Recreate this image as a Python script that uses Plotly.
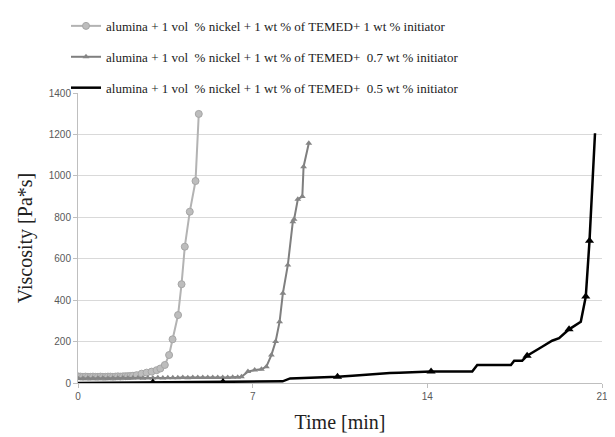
import plotly.graph_objects as go

# ---- data ----
s1_name = "alumina + 1 vol\u00a0 % nickel + 1 wt % of TEMED+ 1 wt % initiator"
s2_name = "alumina + 1 vol\u00a0 % nickel + 1 wt % of TEMED+\u00a0 0.7 wt % initiator"
s3_name = "alumina + 1 vol\u00a0 % nickel + 1 wt % of TEMED+\u00a0 0.5 wt % initiator"

t1 = [0.0, 0.1, 0.2, 0.3, 0.4, 0.5, 0.6, 0.7, 0.8, 0.9, 1.0, 1.1, 1.2, 1.3, 1.4,
      1.5, 1.6, 1.7, 1.8, 1.9, 2.0, 2.1, 2.2, 2.35, 2.55, 2.75, 2.95, 3.15, 3.3,
      3.48, 3.65, 3.79, 4.01, 4.15, 4.28, 4.48, 4.71, 4.84]
v1 = [32, 31, 30, 31, 30, 30, 31, 30, 30, 31, 30, 30, 31, 31, 30,
      31, 32, 31, 32, 33, 33, 34, 35, 38, 45, 50, 55, 62, 70,
      87, 135, 211, 328, 477, 658, 827, 975, 1299]

t2 = [0.0, 0.2, 0.4, 0.6, 0.8, 1.0, 1.2, 1.4, 1.6, 1.8, 2.0, 2.2, 2.4, 2.6, 2.8,
      3.0, 3.2, 3.4, 3.6, 3.8, 4.0, 4.2, 4.4, 4.6, 4.8, 5.0, 5.2, 5.4, 5.6, 5.8,
      6.0, 6.2, 6.4, 6.55, 6.81, 7.08, 7.35, 7.55, 7.75, 7.92, 8.08, 8.21, 8.41,
      8.61, 8.66, 8.81, 8.99, 9.04, 9.25]
v2 = [22, 22, 23, 22, 23, 23, 22, 23, 23, 24, 23, 24, 24, 23, 24,
      24, 25, 24, 25, 25, 25, 26, 25, 26, 26, 26, 27, 26, 27, 27,
      27, 28, 28, 30, 55, 63, 66, 79, 135, 200, 296, 433, 570,
      779, 790, 887, 900, 1044, 1157]

t3 = [0.0, 1.0, 2.0, 3.0, 4.0, 5.0, 5.81, 7.0, 8.2, 8.5, 9.5, 10.4, 11.0, 11.5,
      12.0, 12.5, 12.88, 14.15, 15.8, 16.0, 17.35, 17.48, 17.8, 18.0, 18.6, 19.0,
      19.28, 19.68, 20.15, 20.35, 20.5, 20.6, 20.72]
v3 = [0, 1, 2, 3, 3, 4, 5, 6, 8, 22, 25, 30, 35, 40,
      45, 48, 50, 55, 55, 87, 87, 108, 108, 132, 175, 204,
      216, 259, 296, 417, 687, 948, 1206]
s3_marked = [3, 6, 11, 17, 23, 27, 29, 30]  # indices of points shown with markers

x_ticks = [0, 7, 14, 21]
y_ticks = [0, 200, 400, 600, 800, 1000, 1200, 1400]

# ---- figure ----
fig = go.Figure()
fig.add_trace(go.Scatter(
    x=t1, y=v1, name=s1_name, mode="lines+markers", legendgroup="a",
    line=dict(color="#b3b3b3", width=2),
    marker=dict(symbol="circle", size=7, color="#bdbdbd",
                line=dict(color="#a6a6a6", width=1))))
fig.add_trace(go.Scatter(
    x=t2, y=v2, name=s2_name, mode="lines+markers", legendgroup="b",
    line=dict(color="#7f7f7f", width=2),
    marker=dict(symbol="triangle-up", size=6, color="#858585")))
fig.add_trace(go.Scatter(
    x=t3, y=v3, name=s3_name, mode="lines", legendgroup="c",
    line=dict(color="#000000", width=2.5)))
fig.add_trace(go.Scatter(
    x=[t3[i] for i in s3_marked], y=[v3[i] for i in s3_marked],
    mode="markers", showlegend=False, legendgroup="c",
    marker=dict(symbol="triangle-up", size=8, color="#000000")))

serif = "Liberation Serif, Times New Roman, serif"
sans = "Liberation Sans, Arial, sans-serif"

# the page body adds an 8px offset, so margins are shifted to compensate
fig.update_layout(
    width=615, height=437,
    margin=dict(l=70, r=21, t=85, b=62, autoexpand=False),
    paper_bgcolor="white", plot_bgcolor="white",
    showlegend=True,
    legend=dict(x=-0.0229, y=1.283, xanchor="left", yanchor="top",
                font=dict(family=serif, size=13, color="#222222"),
                bgcolor="rgba(0,0,0,0)", tracegroupgap=11,
                traceorder="grouped"),
    xaxis=dict(range=[0, 21], tickvals=x_ticks, showgrid=False,
               zeroline=False, showline=True, linecolor="#bfbfbf",
               ticks="outside", ticklen=4, tickcolor="#bfbfbf",
               tickfont=dict(family=sans, size=10, color="#595959"),
               title=dict(text="Time [min]", standoff=13,
                          font=dict(family=serif, size=20, color="#222222"))),
    yaxis=dict(range=[0, 1400], tickvals=y_ticks, showgrid=True,
               gridcolor="#d9d9d9", gridwidth=1, zeroline=False,
               showline=True, linecolor="#bfbfbf",
               ticks="outside", ticklen=4, tickcolor="#bfbfbf",
               tickfont=dict(family=sans, size=10, color="#595959"),
               title=dict(text="Viscosity [Pa*s]", standoff=10,
                          font=dict(family=serif, size=20, color="#222222"))),
)

fig.write_html("out.html")
